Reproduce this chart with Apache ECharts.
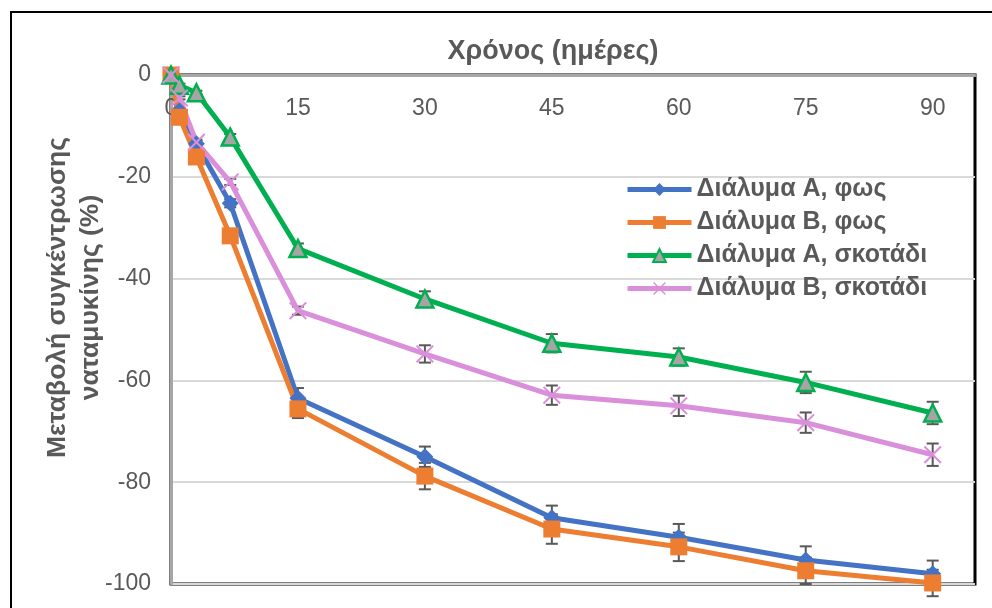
<!DOCTYPE html>
<html>
<head>
<meta charset="utf-8">
<script src="https://cdn.jsdelivr.net/npm/echarts@6/dist/echarts.min.js"></script>
<style>html,body{margin:0;padding:0;background:#fff}#c{width:992px;height:608px}</style>
</head>
<body>
<div id="c"></div>
<script>
const days = [0, 1, 3, 7, 15, 30, 45, 60, 75, 90];
const seriesNames = ['Διάλυμα Α, φως', 'Διάλυμα Β, φως', 'Διάλυμα Α, σκοτάδι', 'Διάλυμα Β, σκοτάδι'];
const lightA = [0, -7, -13.5, -25.2, -63.5, -75, -87, -90.8, -95.3, -98];
const lightB = [0, -8.3, -16.1, -31.6, -65.6, -78.8, -89.2, -92.7, -97.4, -99.8];
const darkA = [0, -2, -3.5, -12.2, -34.1, -44, -52.7, -55.4, -60.4, -66.4];
const darkB = [0, -4.5, -13.2, -21, -46.3, -54.8, -62.9, -65, -68.3, -74.6];
const errLightA = [0, 0.5, 0.6, 0.8, 2.0, 2.0, 2.4, 2.6, 2.7, 2.6];
const errLightB = [0, 0.5, 0.6, 0.8, 1.8, 2.6, 2.9, 2.8, 2.6, 2.6];
const errDarkA = [0, 0.3, 0.4, 0.6, 1.0, 1.5, 1.8, 1.7, 2.1, 2.2];
const errDarkB = [0, 0.3, 0.5, 0.6, 0.8, 1.7, 1.9, 2.0, 2.0, 2.2];
const yTicks = [0, -20, -40, -60, -80, -100];
const xTicks = [0, 15, 30, 45, 60, 75, 90];

const colors = ['#4472C4', '#ED7D31', '#00B050', '#DA8FDA'];
const values = [lightA, lightB, darkA, darkB];
const errs = [errLightA, errLightB, errDarkA, errDarkB];
const xMark = 'path://M0,0.8L0.8,0L5,4.2L9.2,0L10,0.8L5.8,5L10,9.2L9.2,10L5,5.8L0.8,10L0,9.2L4.2,5Z';

const symbols = [
  {symbol: 'diamond', symbolSize: 17, itemStyle: {color: colors[0]}},
  {symbol: 'rect', symbolSize: 17, itemStyle: {color: colors[1]}},
  {symbol: 'triangle', symbolSize: 17, itemStyle: {color: '#A5A5A5', borderColor: colors[2], borderWidth: 2.5}},
  {symbol: xMark, symbolSize: 18, itemStyle: {color: colors[3]}}
];

const txt = '#595959';
const font = '"Liberation Sans", Arial, sans-serif';

const series = [];
values.forEach((vals, i) => {
  series.push({
    type: 'custom',
    name: seriesNames[i] + ' err',
    z: 2,
    silent: true,
    renderItem: function (params, api) {
      const x = api.value(0), y = api.value(1), e = api.value(2);
      const top = api.coord([x, y + e]);
      const bot = api.coord([x, y - e]);
      const w = 6;
      const st = {stroke: '#595959', lineWidth: 2};
      return {
        type: 'group',
        children: [
          {type: 'line', shape: {x1: top[0], y1: top[1], x2: bot[0], y2: bot[1]}, style: st},
          {type: 'line', shape: {x1: top[0] - w, y1: top[1], x2: top[0] + w, y2: top[1]}, style: st},
          {type: 'line', shape: {x1: bot[0] - w, y1: bot[1], x2: bot[0] + w, y2: bot[1]}, style: st}
        ]
      };
    },
    data: days.map((d, k) => [d, vals[k], errs[i][k]])
  });
});
values.forEach((vals, i) => {
  series.push(Object.assign({
    type: 'line',
    name: seriesNames[i],
    z: 3,
    color: colors[i],
    lineStyle: {color: colors[i], width: 5},
    data: days.map((d, k) => [d, vals[k]])
  }, symbols[i]));
});

const chart = echarts.init(document.getElementById('c'));
chart.setOption({
  animation: false,
  backgroundColor: '#fff',
  textStyle: {fontFamily: font},
  graphic: [{
    type: 'rect', z: -10,
    shape: {x: 11, y: 12, width: 1100, height: 800},
    style: {fill: 'none', stroke: '#000', lineWidth: 2}
  }],
  grid: {
    left: 171, top: 75, right: 17, bottom: 24,
    show: true, borderColor: '#000', borderWidth: 3
  },
  legend: {
    orient: 'vertical',
    left: 620, top: 172,
    itemWidth: 64, itemHeight: 16, itemGap: 8,
    lineStyle: {width: 5},
    data: seriesNames,
    textStyle: {color: txt, fontSize: 25, fontWeight: 'bold', fontFamily: font}
  },
  xAxis: {
    type: 'value',
    position: 'top',
    min: 0, max: 95, interval: 15,
    name: 'Χρόνος (ημέρες)',
    nameLocation: 'middle',
    nameGap: 10,
    nameMoveOverlap: false,
    nameTextStyle: {color: txt, fontSize: 27, fontWeight: 'bold', fontFamily: font, padding: [0, 40, 0, 0]},
    axisLine: {lineStyle: {color: '#A6A6A6', width: 3}},
    axisTick: {show: false},
    splitLine: {show: false},
    axisLabel: {
      inside: true, margin: 22, color: txt, fontSize: 23, fontFamily: font,
      formatter: v => (xTicks.indexOf(v) >= 0 ? String(v) : '')
    }
  },
  yAxis: {
    type: 'value',
    min: -100, max: 0, interval: 20,
    name: 'Μεταβολή συγκέντρωσης\nναταμυκίνης (%)',
    nameLocation: 'middle',
    nameGap: 64,
    nameMoveOverlap: false,
    nameTextStyle: {color: txt, fontSize: 26.5, fontWeight: 'bold', fontFamily: font, lineHeight: 33, padding: [0, 0, 0, 64]},
    axisLine: {show: true, lineStyle: {color: '#A6A6A6', width: 3}},
    axisTick: {show: false},
    splitLine: {lineStyle: {color: '#D9D9D9', width: 2}},
    axisLabel: {
      margin: 20, color: txt, fontSize: 23, fontFamily: font,
      formatter: v => (yTicks.indexOf(v) >= 0 ? String(v) : '')
    }
  },
  series: series
});
</script>
</body>
</html>
